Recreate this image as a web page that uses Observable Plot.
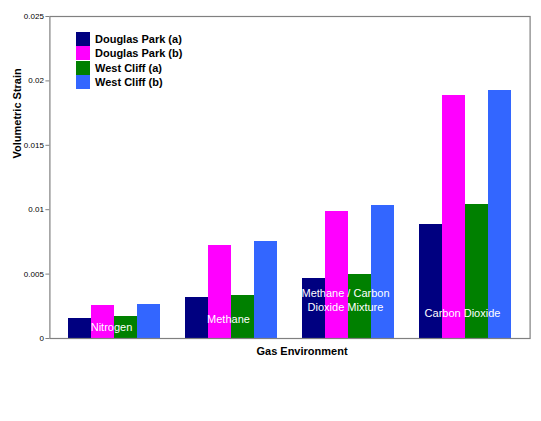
<!DOCTYPE html>
<html>
<head>
<meta charset="utf-8">
<script src="https://cdn.jsdelivr.net/npm/d3@7"></script>
<script src="https://cdn.jsdelivr.net/npm/@observablehq/plot@0.6"></script>
<style>
  body { margin: 0; background: white; }
  #chart { position: relative; width: 541px; height: 421px; font-family: "Liberation Sans", Arial, sans-serif; }
  #legend { position: absolute; left: 76px; top: 32px; font-weight: bold; font-size: 11px; }
  #legend div { display: flex; align-items: center; height: 14.3px; }
  #legend span { display: inline-block; width: 14px; height: 14px; margin-right: 5px; }
</style>
</head>
<body>
<div id="chart"><div id="legend"></div></div>
<script>
// categories and series
const gases = ["Nitrogen", "Methane", "Methane / Carbon Dioxide Mixture", "Carbon Dioxide"];
const gasLabels = ["Nitrogen", "Methane", "Methane / Carbon\nDioxide Mixture", "Carbon Dioxide"];
const series = ["Douglas Park (a)", "Douglas Park (b)", "West Cliff (a)", "West Cliff (b)"];
const colors = ["#000080", "#ff00ff", "#008000", "#3366ff"];

// volumetric strain per gas
const douglasParkA = [0.00155, 0.00318, 0.00466, 0.00887];
const douglasParkB = [0.00256, 0.00722, 0.00986, 0.01887];
const westCliffA = [0.0017, 0.00334, 0.00497, 0.0104];
const westCliffB = [0.00264, 0.00753, 0.01033, 0.01925];

const yTicks = [0, 0.005, 0.01, 0.015, 0.02, 0.025];

let values = [douglasParkA, douglasParkB, westCliffA, westCliffB];
let data = [];
gases.forEach((g, i) => {
  series.forEach((s, j) => data.push({gas: g, series: s, value: values[j][i]}));
});

let w = 541, h = 421;
let mLeft = 49, mRight = 11;
let padIn = 0.2, padOut = 0.15;
// facets start after the outer padding, so the axis and frame get pushed back out to the edge
let step = (w - mLeft - mRight) / (gases.length - padIn + 2 * padOut);
let shift = -padOut * step;

// where the white category labels sit inside the bars (pixels up from the baseline)
let labelDy = [-8, -16, -28, -22];

let labelMarks = gases.map((g, i) =>
  Plot.text([g], {
    fx: d => d,
    text: [gasLabels[i]],
    frameAnchor: "bottom",
    dy: labelDy[i],
    dx: -3,
    fill: "white",
    fontSize: 11,
    lineHeight: 1.25
  })
);

let chart = Plot.plot({
  width: w,
  height: h,
  marginLeft: mLeft,
  marginRight: mRight,
  marginTop: 16,
  marginBottom: 83,
  style: {fontFamily: "Liberation Sans, Arial, sans-serif", background: "white", overflow: "visible"},
  fx: {domain: gases, paddingInner: padIn, paddingOuter: padOut, axis: null},
  x: {domain: series, padding: 0, axis: null},
  y: {domain: [0, 0.025], axis: null},
  color: {domain: series, range: colors},
  marks: [
    Plot.barY(data, {fx: "gas", x: "series", y: "value", fill: "series", shapeRendering: "crispEdges"}),
    ...labelMarks,
    Plot.frame({facet: "super", stroke: "#808080", strokeWidth: 1.2, insetLeft: shift, insetRight: shift}),
    Plot.axisY({
      ticks: yTicks,
      tickFormat: d => String(d),
      tickSize: 4,
      tickPadding: 2,
      dx: shift,
      stroke: "#808080",
      fontSize: 8,
      fill: "black",
      label: null
    }),
    Plot.text(["Volumetric Strain"], {
      facet: "super",
      frameAnchor: "left",
      rotate: -90,
      dx: shift - 32,
      dy: -19,
      fontWeight: "bold",
      fontSize: 11
    }),
    Plot.text(["Gas Environment"], {
      facet: "super",
      frameAnchor: "bottom",
      dx: 12,
      dy: 16,
      fontWeight: "bold",
      fontSize: 11
    })
  ]
});

d3.select("#chart").insert(() => chart, "#legend");

let legend = d3.select("#legend");
series.forEach((s, i) => {
  let row = legend.append("div");
  row.append("span").style("background", colors[i]);
  row.append("text").text(s);
});
</script>
</body>
</html>
